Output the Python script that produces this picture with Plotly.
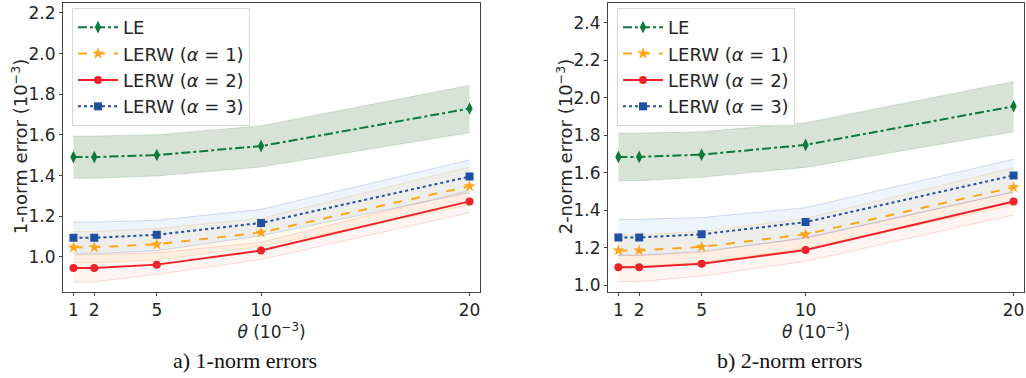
import plotly.graph_objects as go

theta = [1, 2, 5, 10, 20]

# 1-norm errors (10^-3)
le_1 = [1.491, 1.491, 1.501, 1.545, 1.730]
le_1_lo = [1.387, 1.387, 1.398, 1.442, 1.611]
le_1_hi = [1.595, 1.595, 1.601, 1.645, 1.844]
a1_1 = [1.047, 1.047, 1.062, 1.120, 1.348]
a1_1_lo = [0.971, 0.971, 0.985, 1.052, 1.255]
a1_1_hi = [1.125, 1.125, 1.140, 1.190, 1.442]
a2_1 = [0.945, 0.945, 0.962, 1.031, 1.273]
a2_1_lo = [0.877, 0.877, 0.914, 0.987, 1.218]
a2_1_hi = [1.011, 1.011, 1.020, 1.072, 1.328]
a3_1 = [1.094, 1.094, 1.109, 1.167, 1.395]
a3_1_lo = [1.016, 1.016, 1.030, 1.104, 1.316]
a3_1_hi = [1.171, 1.171, 1.180, 1.234, 1.477]

# 2-norm errors (10^-3)
le_2 = [1.684, 1.684, 1.696, 1.748, 1.954]
le_2_lo = [1.557, 1.557, 1.575, 1.628, 1.818]
le_2_hi = [1.811, 1.811, 1.818, 1.866, 2.086]
a1_2 = [1.185, 1.185, 1.204, 1.271, 1.522]
a1_2_lo = [1.101, 1.101, 1.120, 1.197, 1.426]
a1_2_hi = [1.268, 1.268, 1.285, 1.356, 1.626]
a2_2 = [1.095, 1.095, 1.114, 1.187, 1.446]
a2_2_lo = [1.019, 1.019, 1.048, 1.127, 1.374]
a2_2_hi = [1.159, 1.159, 1.175, 1.254, 1.497]
a3_2 = [1.254, 1.254, 1.271, 1.336, 1.585]
a3_2_lo = [1.159, 1.159, 1.180, 1.250, 1.497]
a3_2_hi = [1.351, 1.351, 1.360, 1.413, 1.672]

names = ["LE", "LERW (<i>α</i> = 1)", "LERW (<i>α</i> = 2)", "LERW (<i>α</i> = 3)"]
line_colors = ["#0b7a3b", "#ffa51a", "#ee2228", "#2050a4"]
band_fill = ["rgba(30,100,30,0.18)", "rgba(255,165,0,0.07)", "rgba(240,60,40,0.06)", "rgba(80,150,230,0.10)"]
band_edge = ["rgba(30,100,30,0.15)", "rgba(255,165,0,0.20)", "rgba(240,60,40,0.18)", "rgba(60,100,200,0.22)"]
dashes = ["dashdot", "dash", "solid", "dot"]
symbols = ["diamond-tall", "star", "circle", "square"]
msizes = [9, 9, 8, 8]

panels = [
    dict(means=[le_1, a1_1, a2_1, a3_1], los=[le_1_lo, a1_1_lo, a2_1_lo, a3_1_lo],
         his=[le_1_hi, a1_1_hi, a2_1_hi, a3_1_hi], xa="x", ya="y", legend="legend", tag="a"),
    dict(means=[le_2, a1_2, a2_2, a3_2], los=[le_2_lo, a1_2_lo, a2_2_lo, a3_2_lo],
         his=[le_2_hi, a1_2_hi, a2_2_hi, a3_2_hi], xa="x2", ya="y2", legend="legend2", tag="b"),
]

fig = go.Figure()
for p in panels:
    for i in range(4):
        fig.add_trace(go.Scatter(x=theta, y=p["his"][i], mode="lines",
                                 line=dict(color=band_edge[i], width=1),
                                 xaxis=p["xa"], yaxis=p["ya"], showlegend=False,
                                 hoverinfo="skip"))
        fig.add_trace(go.Scatter(x=theta, y=p["los"][i], mode="lines", fill="tonexty",
                                 fillcolor=band_fill[i],
                                 line=dict(color=band_edge[i], width=1),
                                 xaxis=p["xa"], yaxis=p["ya"], showlegend=False,
                                 hoverinfo="skip"))
    for i in range(4):
        fig.add_trace(go.Scatter(x=theta, y=p["means"][i], mode="lines+markers",
                                 name=names[i], legendgroup=f"{p['tag']}{i}",
                                 line=dict(color=line_colors[i], width=2, dash=dashes[i]),
                                 marker=dict(symbol=symbols[i], size=msizes[i], color=line_colors[i]),
                                 xaxis=p["xa"], yaxis=p["ya"], legend=p["legend"]))

W, H = 1026, 378
tick_font = dict(family="DejaVu Sans", size=17, color="#262626")
axis_common = dict(showline=True, mirror=True, linecolor="#444444", linewidth=1.2,
                   ticks="outside", ticklen=3, tickcolor="#444444", showgrid=False,
                   zeroline=False, tickfont=tick_font)
legend_common = dict(xanchor="left", yanchor="top",
                     bgcolor="rgba(255,255,255,0.85)", bordercolor="#d8d8d8", borderwidth=1,
                     font=dict(family="DejaVu Sans", size=18, color="#262626"),
                     traceorder="grouped", tracegroupgap=0, itemwidth=40)

ytitle_font = dict(family="DejaVu Sans", size=18, color="#262626")
caption_font = dict(family="Liberation Serif", size=22, color="#111111")

fig.update_layout(
    width=W, height=H,
    margin=dict(l=0, r=0, t=0, b=0),
    plot_bgcolor="white", paper_bgcolor="white",
    font=dict(family="DejaVu Sans", color="#262626"),
    xaxis=dict(domain=[63 / W, 480 / W], range=[0.5, 20.5], tickvals=theta,
               title=dict(text="<i>θ</i> (10<sup>−3</sup>)", font=dict(size=17), standoff=0),
               anchor="y", **axis_common),
    yaxis=dict(domain=[1 - 294 / H, 1 - 3 / H], range=[0.829, 2.249],
               tickvals=[1.0, 1.2, 1.4, 1.6, 1.8, 2.0, 2.2], tickformat=".1f",
               anchor="x", **axis_common),
    xaxis2=dict(domain=[608 / W, 1024 / W], range=[0.5, 20.5], tickvals=theta,
                title=dict(text="<i>θ</i> (10<sup>−3</sup>)", font=dict(size=17), standoff=0),
                anchor="y2", **axis_common),
    yaxis2=dict(domain=[1 - 294 / H, 1 - 3 / H], range=[0.965, 2.505],
                tickvals=[1.0, 1.2, 1.4, 1.6, 1.8, 2.0, 2.2, 2.4], tickformat=".1f",
                anchor="x2", **axis_common),
    legend=dict(x=72 / W, y=1 - 8 / H, **legend_common),
    legend2=dict(x=617 / W, y=1 - 8 / H, **legend_common),
    annotations=[
        dict(text="1-norm error (10<sup>−3</sup>)", x=19.5 / W, y=1 - 148 / H,
             xref="paper", yref="paper", xanchor="center", yanchor="middle", textangle=-90,
             showarrow=False, font=ytitle_font),
        dict(text="2-norm error (10<sup>−3</sup>)", x=564.5 / W, y=1 - 148 / H,
             xref="paper", yref="paper", xanchor="center", yanchor="middle", textangle=-90,
             showarrow=False, font=ytitle_font),
        dict(text="a) 1-norm errors", x=245 / W, y=1 - 363 / H, xref="paper", yref="paper",
             xanchor="center", yanchor="middle", showarrow=False, font=caption_font),
        dict(text="b) 2-norm errors", x=789 / W, y=1 - 363 / H, xref="paper", yref="paper",
             xanchor="center", yanchor="middle", showarrow=False, font=caption_font),
    ],
)

fig.write_html("out.html", config={"displayModeBar": False},
               post_script="document.body.style.margin='0px';")
